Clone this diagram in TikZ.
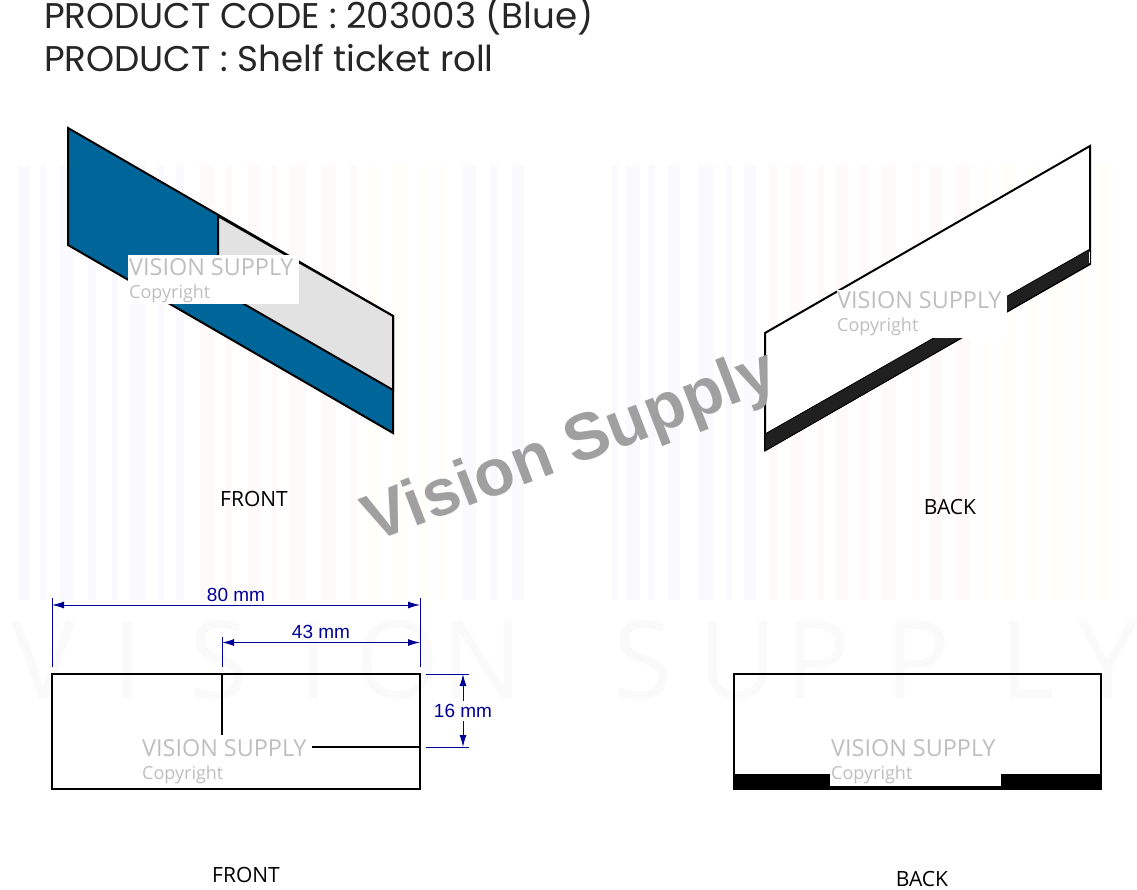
\documentclass[tikz,border=0pt]{standalone}
\usepackage{fontspec}
\setmainfont{Open Sans}
\newfontfamily\dimfont{Liberation Sans}
\newfontfamily\stampfont{Liberation Sans}[UprightFont=* Bold]
\newfontfamily\titlefont{Poppins}
\usetikzlibrary{arrows.meta}
\definecolor{shelfblue}{RGB}{0, 102, 153}
\definecolor{shelfgray}{RGB}{226, 226, 226}
\definecolor{stripdark}{RGB}{32, 32, 32}
\definecolor{dimblue}{RGB}{0, 0, 150}
\definecolor{markgray}{RGB}{190, 190, 190}
\definecolor{stampgray}{RGB}{160, 160, 160}
\definecolor{tintblue}{RGB}{250, 250, 254}
\definecolor{tintred}{RGB}{254, 250, 250}
\definecolor{tintyellow}{RGB}{255, 254, 249}
\tikzset{
  outline/.style={draw=black, line width=2pt, line join=miter},
  titletext/.style={anchor=base west, font=\titlefont\fontsize{35.7}{35.7}\selectfont, text=black!85, inner sep=0pt},
  viewlabel/.style={font=\fontsize{21}{21}\selectfont, inner sep=0pt},
  dimlabel/.style={font=\dimfont\fontsize{19}{19}\selectfont, text=dimblue, inner sep=0pt},
  dimline/.style={draw=dimblue, line width=1pt},
  dimarrow/.style={dimline, {Latex[length=12pt,width=7pt]}-{Latex[length=12pt,width=7pt]}},
  hidebox/.style={fill=white, draw=none},
  marktext/.style={anchor=west, font=\fontsize{23.4}{23.4}\selectfont, text=markgray, inner sep=0pt},
  copytext/.style={anchor=west, font=\fontsize{18}{18}\selectfont, text=markgray, inner sep=0pt},
  bigletter/.style={font=\fontsize{108}{108}\selectfont, text=black!2, inner sep=0pt}
}
\begin{document}
\begin{tikzpicture}[x=1pt,y=-1pt]
  \useasboundingbox (0,0) rectangle (1137,890);
  % Barcode tint behind the views
  \foreach \xa/\wd/\tint in {18/12/tintblue,40/6/tintblue,60/14/tintblue,88/8/tintblue,112/5/tintblue,
    130/16/tintblue,158/6/tintblue,176/8/tintblue,200/14/tintred,226/6/tintred,248/12/tintred,
    272/5/tintred,290/16/tintred,322/14/tintred,350/7/tintred,368/12/tintyellow,392/16/tintyellow,
    420/8/tintyellow,440/6/tintyellow,462/14/tintblue,490/8/tintblue,512/12/tintblue,
    612/6/tintblue,626/14/tintblue,648/7/tintblue,668/12/tintblue,698/16/tintblue,726/6/tintblue,
    744/12/tintblue,770/8/tintred,790/14/tintred,818/6/tintred,836/12/tintred,860/8/tintred,
    882/14/tintred,912/7/tintred,930/12/tintred,956/14/tintred,984/6/tintyellow,1002/14/tintyellow,
    1030/8/tintyellow,1050/16/tintyellow,1080/6/tintyellow,1098/12/tintyellow}
    \fill[\tint] (\xa,165) rectangle ++(\wd,435);
  \foreach \xa/\letter in {44/V,128/I,219/S,314/I,398/O,482/N,643/S,738/U,818/P,918/P,1028/L,1108/Y}
    \node[bigletter] (big\xa) at (\xa,660) {\letter};

  % Title
  \node[titletext] (titlecode) at (44,29) {PRODUCT CODE : 203003 (Blue)};
  \node[titletext] (titlename) at (44,72) {PRODUCT : Shelf ticket roll};

  % Front view, slanted
  \draw[outline,fill=shelfblue] (68,128) -- (393,316) -- (393,433) -- (68,245) -- cycle;
  \draw[outline,fill=shelfgray] (218,216) -- (393,316) -- (393,390) -- (218,289) -- cycle;
  \draw[outline] (393,390) -- (393,433);
  \fill[hidebox] (128,255) rectangle (299,304);
  \node[marktext] (markfronta) at (129,267) {VISION SUPPLY};
  \node[copytext] (copyfronta) at (129,294) {Copyright};
  \node[viewlabel] (frontslant) at (254,499) {FRONT};

  % Back view, slanted
  \draw[outline,fill=white] (765,333) -- (1090,146) -- (1090,264) -- (765,450) -- cycle;
  \fill[stripdark,draw=black,line width=0.8pt] (765,434) -- (1090,249) -- (1090,264) -- (765,451) -- cycle;
  \draw[white,line width=0.8pt] (1089,252) -- (1089,263);
  \fill[hidebox] (837,290) rectangle (1007,338);
  \node[marktext] (markbacka) at (837,300) {VISION SUPPLY};
  \node[copytext] (copybacka) at (837,327) {Copyright};
  \node[viewlabel] (backslant) at (950,507) {BACK};

  % Stamp across the sheet
  \node[font=\stampfont\fontsize{66}{66}\selectfont,text=stampgray,rotate=21,inner sep=0pt] (stamp) at (571,449) {Vision Supply};

  % Front view, flat
  \coordinate (fl) at (52,674);
  \coordinate (fr) at (420,674);
  \coordinate (fm) at (222,674);
  \coordinate (fc) at (420,747);
  \draw[outline] (52,674) rectangle (420,789);
  \draw[outline] (fm) -- (222,735);
  \draw[outline] (312,747) -- (fc);
  \node[marktext] (markfrontb) at (142,748) {VISION SUPPLY};
  \node[copytext] (copyfrontb) at (142,775) {Copyright};
  \node[viewlabel] (frontflat) at (246,875) {FRONT};

  % Dimensions
  \coordinate (w80a) at (52,605);
  \coordinate (w80b) at (420,605);
  \coordinate (w43a) at (222,642.5);
  \coordinate (w43b) at (420,642.5);
  \coordinate (h16a) at (463,674);
  \coordinate (h16b) at (463,747);
  \draw[dimline] (52,598) -- (52,667);
  \draw[dimline] (420,598) -- (420,667);
  \draw[dimline] (222,637) -- (222,667);
  \draw[dimline] (426,674) -- (469,674);
  \draw[dimline] (426,747) -- (469,747);
  \draw[dimarrow] (w80a) -- (w80b);
  \draw[dimarrow] (w43a) -- (w43b);
  \draw[dimarrow] (h16a) -- (h16b);
  \node[dimlabel] (label80) at (236,595) {80 mm};
  \node[dimlabel] (label43) at (321,632) {43 mm};
  \node[dimlabel,fill=white,inner ysep=3pt] (label16) at (463,711) {16 mm};

  % Back view, flat
  \draw[outline] (734,674) rectangle (1101,789);
  \fill[black] (733,774) rectangle (1102,790);
  \fill[hidebox] (830,774) rectangle (1001,786);
  \node[marktext] (markbackb) at (831,748) {VISION SUPPLY};
  \node[copytext] (copybackb) at (831,775) {Copyright};
  \node[viewlabel] (backflat) at (922,879) {BACK};
\end{tikzpicture}
\end{document}
